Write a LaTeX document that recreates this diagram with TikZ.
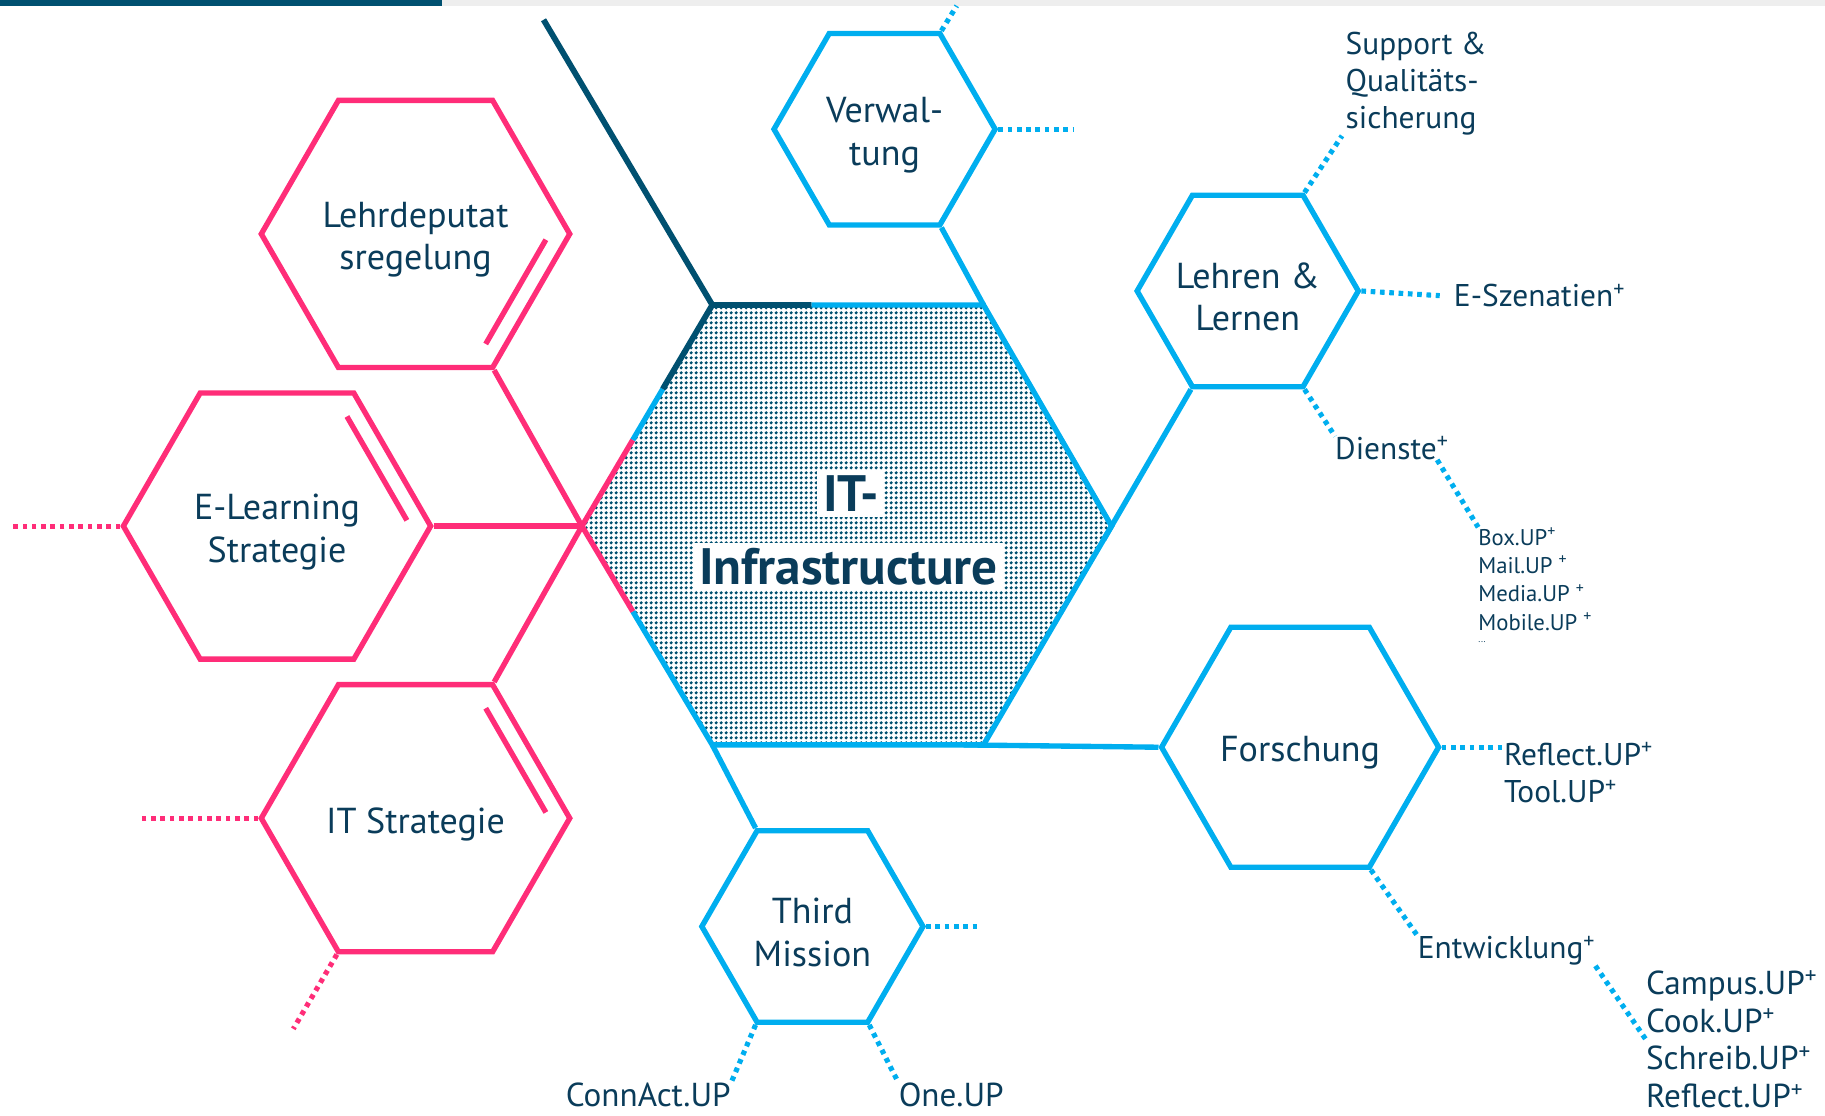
\documentclass[tikz,border=0pt]{standalone}
\usepackage{fontspec}
\setmainfont{PT Sans}
\usetikzlibrary{shapes.geometric,calc,patterns.meta}
\definecolor{uppink}{RGB}{255,45,120}
\definecolor{upblue}{RGB}{0,174,239}
\definecolor{updark}{RGB}{0,80,112}
\definecolor{uptext}{RGB}{10,60,90}
\definecolor{upgray}{RGB}{238,238,238}
\tikzset{
    % Hexagon - pink tones
    hexpink/.style={
        regular polygon,
        regular polygon sides=6,
        draw=uppink,
        line width=4.6pt,
        inner sep=0pt
    },
    % Hexagon - blue tones
    hexblue/.style={
        regular polygon,
        regular polygon sides=6,
        draw=upblue,
        line width=4.6pt,
        inner sep=0pt
    },
    % Text inside a hexagon
    hextext/.style={
        align=center,
        yshift=-5pt,
        text=uptext,
        font=\fontsize{31}{36.5}\selectfont
    },
    % Solid links
    pinkline/.style={draw=uppink, line width=4.6pt},
    blueline/.style={draw=upblue, line width=4.6pt},
    darkline/.style={draw=updark, line width=5pt},
    % Dotted links
    pinkdots/.style={draw=uppink, line width=4.4pt, dash pattern=on 4pt off 4pt},
    bluedots/.style={draw=upblue, line width=4.4pt, dash pattern=on 4pt off 4pt},
    % Text outside the hexagons
    outlabel/.style={
        inner sep=0pt,
        align=left,
        text=uptext,
        font=\fontsize{27}{32}\selectfont
    },
    biglabel/.style={
        inner sep=0pt,
        align=left,
        text=uptext,
        font=\fontsize{28.5}{32.4}\selectfont
    },
    smalllabel/.style={
        inner sep=0pt,
        align=left,
        text=uptext,
        font=\fontsize{19.5}{24.4}\selectfont
    },
    % Title in the middle
    corelabel/.style={
        fill=white,
        inner sep=5pt,
        text=uptext,
        font=\fontsize{44}{50}\selectfont\bfseries
    }
}

\begin{document}
\begin{tikzpicture}[x=1pt, y=-1pt]

    \useasboundingbox (0,0) rectangle (1568,958);

    % ========== TOP BAR ==========
    \fill[updark] (0,0) rectangle (380,5);
    \fill[upgray] (380,0) rectangle (1568,5);

    % ========== CENTRAL HEXAGON ==========
    \coordinate (cTL) at (612,262);
    \coordinate (cTR) at (845,262);
    \coordinate (cR) at (955,452);
    \coordinate (cBR) at (845,640);
    \coordinate (cBL) at (612,640);
    \coordinate (cL) at (500,452);

    \fill[pattern={Dots[distance=4pt, radius=1.6pt]}, pattern color=updark]
        (cTL) -- (cTR) -- (cR) -- (cBR) -- (cBL) -- (cL) -- cycle;

    \draw[blueline] ($(cL)!0.39!(cBL)$) -- (cBL) -- (cBR) -- (cR) -- (cTR) -- ($(cTL)!0.365!(cTR)$);
    \draw[pinkline] ($(cL)!0.39!(cBL)$) -- (cL) -- ($(cL)!0.39!(cTL)$);
    \draw[blueline] ($(cL)!0.39!(cTL)$) -- ($(cL)!0.62!(cTL)$);
    \draw[darkline] ($(cL)!0.62!(cTL)$) -- (cTL) -- ($(cTL)!0.365!(cTR)$);

    \coordinate (darkend) at (467,17);
    \draw[darkline] (cTL) -- (darkend);

    \node[corelabel] (core1) at (731,424) {IT-};
    \node[corelabel] (core2) at (729,487) {Infrastructure};

    % ========== PINK HEXAGONS ==========
    \node[hexpink, minimum size=265pt, label={[hextext]center:{Lehrdeputat\\sregelung}}] (deputat) at (357,201) {};
    \node[hexpink, minimum size=264pt, label={[hextext]center:{E-Learning\\Strategie}}] (elearn) at (238,452) {};
    \node[hexpink, minimum size=265pt, label={[hextext]center:{IT Strategie}}] (itstrat) at (357,703) {};

    % inner double strokes
    \coordinate (depA) at ($(deputat.center)!0.85!(deputat.corner 6)$);
    \coordinate (depB) at ($(deputat.center)!0.85!(deputat.corner 5)$);
    \draw[pinkline] ($(depA)!0.05!(depB)$) -- ($(depA)!0.95!(depB)$);
    \coordinate (elA) at ($(elearn.center)!0.85!(elearn.corner 1)$);
    \coordinate (elB) at ($(elearn.center)!0.85!(elearn.corner 6)$);
    \draw[pinkline] ($(elA)!0.05!(elB)$) -- ($(elA)!0.95!(elB)$);
    \coordinate (itA) at ($(itstrat.center)!0.85!(itstrat.corner 1)$);
    \coordinate (itB) at ($(itstrat.center)!0.85!(itstrat.corner 6)$);
    \draw[pinkline] ($(itA)!0.05!(itB)$) -- ($(itA)!0.95!(itB)$);

    % ========== BLUE HEXAGONS ==========
    \node[hexblue, minimum size=190pt, label={[hextext]center:{Verwal-\\tung}}] (verw) at (760,111) {};
    \node[hexblue, minimum size=190pt, label={[hextext]center:{Lehren \&\\Lernen}}] (lehren) at (1072,250) {};
    \node[hexblue, minimum size=238pt, label={[hextext]center:{Forschung}}] (forsch) at (1117,642) {};
    \node[hexblue, minimum size=190pt, label={[hextext]center:{Third\\Mission}}] (third) at (698,796) {};

    % ========== LABELS ==========
    \node[outlabel, anchor=west] (support) at (1156,72) {Support \&\\Qualitäts-\\sicherung};
    \node[outlabel, anchor=west] (eszen) at (1249,254) {E-Szenatien\textsuperscript{+}};
    \node[outlabel, anchor=west] (dienste) at (1147,385) {Dienste\textsuperscript{+}};
    \node[smalllabel, anchor=north west] (boxlist) at (1270,453) {Box.UP\textsuperscript{+}\\Mail.UP \textsuperscript{+}\\Media.UP \textsuperscript{+}\\Mobile.UP \textsuperscript{+}\\[-14pt]{\fontsize{8}{8}\selectfont ...}};
    \node[outlabel, anchor=west] (reflect) at (1292,664) {Reflect.UP\textsuperscript{+}\\Tool.UP\textsuperscript{+}};
    \node[outlabel, anchor=west] (entw) at (1218,817) {Entwicklung\textsuperscript{+}};
    \node[biglabel, anchor=west] (campus) at (1414,893) {Campus.UP\textsuperscript{+}\\Cook.UP\textsuperscript{+}\\Schreib.UP\textsuperscript{+}\\Reflect.UP\textsuperscript{+}};
    \node[biglabel, anchor=west] (connact) at (486,941) {ConnAct.UP};
    \node[biglabel, anchor=west] (oneup) at (772,941) {One.UP};

    % ========== FREE ENDS ==========
    \coordinate (elearnend) at (10,452);
    \coordinate (itleft) at (122,703);
    \coordinate (itdown) at (252,884);
    \coordinate (verwright) at (923,111);
    \coordinate (verwup) at (822,5);
    \coordinate (thirdright) at (840,796);

    % ========== CONNECTIONS ==========

    % Pink side
    \draw[pinkline] (deputat.corner 5) -- (cL);
    \draw[pinkline] (elearn.corner 6) -- (cL);
    \draw[pinkline] (itstrat.corner 1) -- (cL);
    \draw[pinkdots] (elearn.corner 3) -- (elearnend);
    \draw[pinkdots] (itstrat.corner 3) -- (itleft);
    \draw[pinkdots] (itstrat.corner 4) -- (itdown);

    % Verwaltung
    \draw[blueline] (verw.corner 5) -- (cTR);
    \draw[bluedots] (verw.corner 6) -- (verwright);
    \draw[bluedots] (verw.corner 1) -- (verwup);

    % Lehren & Lernen
    \draw[blueline] (lehren.corner 4) -- ($(lehren.corner 4)!1.1!(cR)$);
    \draw[bluedots] (lehren.corner 1) -- ([xshift=-3pt]support.south west);
    \draw[bluedots] (lehren.corner 6) -- ([xshift=-12pt]eszen.west);
    \draw[bluedots] (lehren.corner 5) -- (dienste.north west);
    \draw[bluedots] ([xshift=-10pt]dienste.south east) -- (boxlist.north west);

    % Forschung
    \draw[blueline] ([xshift=-17pt]cBR) -- (forsch.corner 3);
    \draw[bluedots] (forsch.corner 6) -- (forsch.corner 6 -| reflect.west);
    \draw[bluedots] (forsch.corner 5) -- (entw.north west);
    \draw[bluedots] (entw.south east) -- (campus.west);

    % Third Mission
    \draw[blueline] (cBL) -- (third.corner 2);
    \draw[bluedots] (third.corner 6) -- (thirdright);
    \draw[bluedots] (third.corner 4) -- (connact.north east);
    \draw[bluedots] (third.corner 5) -- (oneup.north west);

\end{tikzpicture}
\end{document}
